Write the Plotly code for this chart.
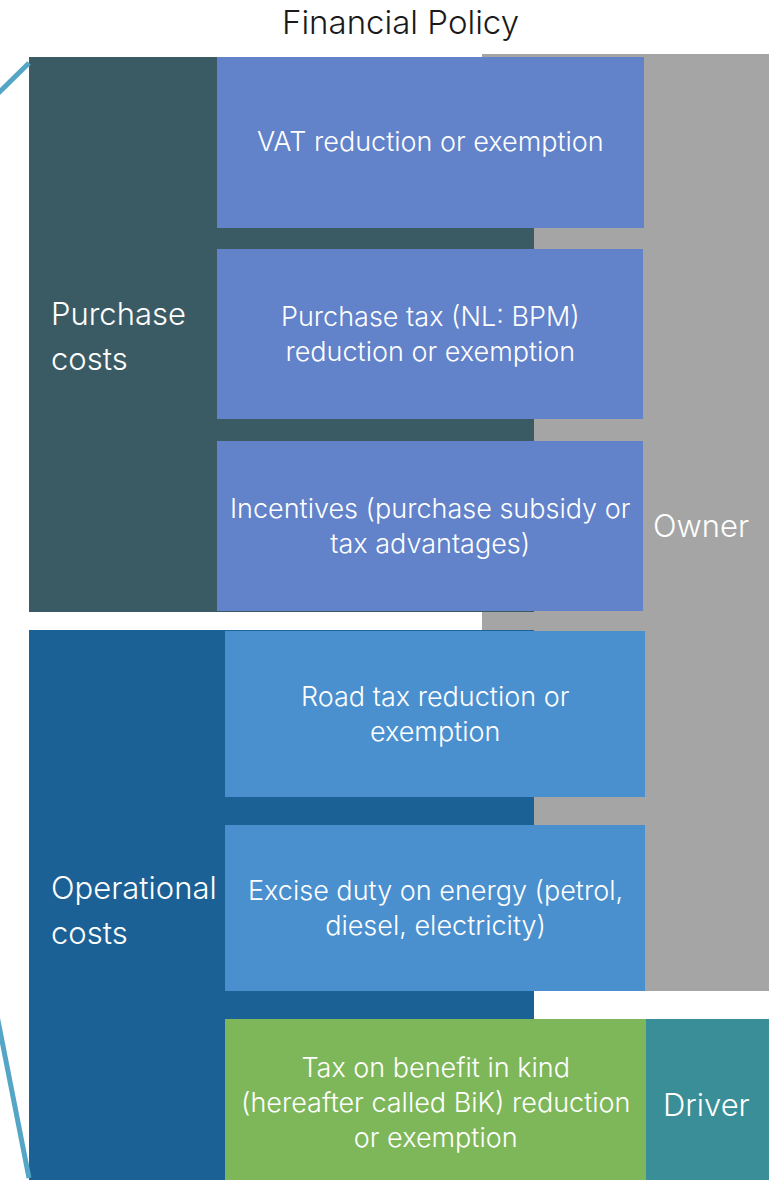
import plotly.graph_objects as go

# texts
title = "Financial Policy"
group_labels = [["Purchase", "costs"], ["Operational", "costs"]]
measure_labels = [
    "VAT reduction or exemption",
    "Purchase tax (NL: BPM)<br>reduction or exemption",
    "Incentives (purchase subsidy or<br>tax advantages)",
    "Road tax reduction or<br>exemption",
    "Excise duty on energy (petrol,<br>diesel, electricity)",
    "Tax on benefit in kind<br>(hereafter called BiK) reduction<br>or exemption",
]
target_labels = ["Owner", "Driver"]

# layout of the diagram (pixel units, y grows downward)
W, H = 771, 1180
group_boxes = [(29, 534, 57, 612), (29, 534, 630, 1180)]
measure_boxes = [
    (217, 644, 57, 228),
    (217, 643, 249, 419),
    (217, 643, 441, 611),
    (225, 645, 631, 797),
    (225, 645, 825, 991),
    (225, 646, 1019, 1180),
]
target_boxes = [(482, 769, 54, 991), (646, 769, 1019, 1180)]
target_text_x = [701, 706]
target_text_y = [525, 1104]
group_text_x = 49
group_text_y = [(313, 358), (887, 932)]
measure_text_y = [141, 334, 526, 714, 908, 1102]

group_colors = ["#3B5B64", "#1C6195"]
measure_colors = ["#6282CA"] * 3 + ["#4A90CF"] * 2 + ["#7EB75A"]
target_colors = ["#A5A5A5", "#3A8E97"]
line_color = "#55A5C7"
FONT = "Inter"
WEIGHT = 300

fig = go.Figure()

shapes = []
# owner box sits behind everything
shapes.append(dict(type="rect", x0=target_boxes[0][0], x1=target_boxes[0][1],
                   y0=target_boxes[0][2], y1=target_boxes[0][3],
                   fillcolor=target_colors[0], line_width=0, layer="below"))
for (x0, x1, y0, y1), c in zip(group_boxes, group_colors):
    shapes.append(dict(type="rect", x0=x0, x1=x1, y0=y0, y1=y1,
                       fillcolor=c, line_width=0, layer="below"))
for (x0, x1, y0, y1), c in zip(measure_boxes, measure_colors):
    shapes.append(dict(type="rect", x0=x0, x1=x1, y0=y0, y1=y1,
                       fillcolor=c, line_width=0, layer="below"))
shapes.append(dict(type="rect", x0=target_boxes[1][0], x1=target_boxes[1][1],
                   y0=target_boxes[1][2], y1=target_boxes[1][3],
                   fillcolor=target_colors[1], line_width=0, layer="below"))

# bracket lines coming in from the left
bracket_x = [[-20, 29], [-8, 29]]
bracket_y = [[111, 63], [990, 1178]]
for xs, ys in zip(bracket_x, bracket_y):
    fig.add_trace(go.Scatter(x=xs, y=ys, mode="lines",
                             line=dict(color=line_color, width=5),
                             hoverinfo="skip", showlegend=False))

annotations = []
for (x0, x1, y0, y1), ty, txt in zip(measure_boxes, measure_text_y, measure_labels):
    annotations.append(dict(x=(x0 + x1) / 2, y=ty, text=txt,
                            showarrow=False, xanchor="center", yanchor="middle",
                            font=dict(family=FONT, size=27, color="white",
                                      weight=WEIGHT)))
for ys, lines in zip(group_text_y, group_labels):
    for y, txt in zip(ys, lines):
        annotations.append(dict(x=group_text_x, y=y, text=txt, showarrow=False,
                                xanchor="left", yanchor="middle",
                                font=dict(family=FONT, size=31, color="white",
                                          weight=WEIGHT)))
for x, y, txt in zip(target_text_x, target_text_y, target_labels):
    annotations.append(dict(x=x, y=y, text=txt, showarrow=False,
                            xanchor="center", yanchor="middle",
                            font=dict(family=FONT, size=31, color="white",
                                      weight=WEIGHT)))
annotations.append(dict(x=400, y=22, text=title, showarrow=False,
                        xanchor="center", yanchor="middle",
                        font=dict(family=FONT, size=33, color="#1A1A1A",
                                  weight=WEIGHT)))

fig.update_layout(
    width=W, height=H,
    margin=dict(l=0, r=0, t=0, b=0),
    paper_bgcolor="white", plot_bgcolor="white",
    shapes=shapes, annotations=annotations,
    xaxis=dict(range=[0, W], visible=False, fixedrange=True),
    yaxis=dict(range=[H, 0], visible=False, fixedrange=True),
)

fig.write_html("out.html", config={"displayModeBar": False},
               post_script="document.body.style.margin='0';")
